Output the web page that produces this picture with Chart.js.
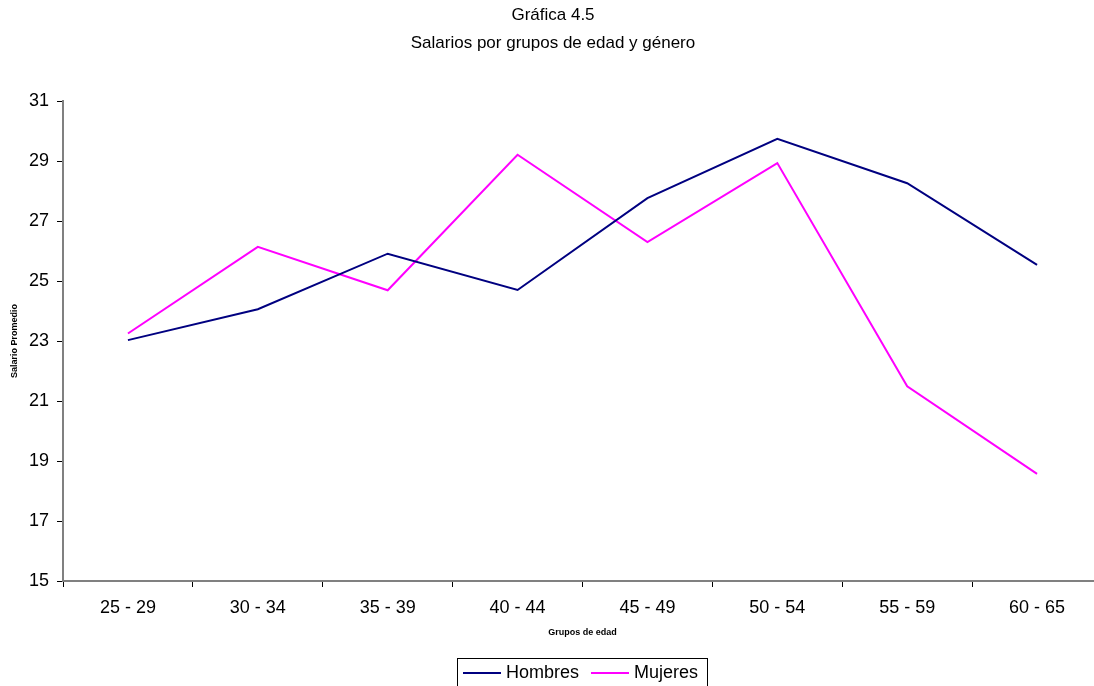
<!DOCTYPE html>
<html lang="es">
<head>
<meta charset="utf-8">
<title>Gráfica 4.5</title>
<script src="https://cdn.jsdelivr.net/npm/chart.js@4"></script>
<style>
    html, body { margin: 0; padding: 0; background: #fff; overflow: hidden; }
    #wrap { width: 1106px; height: 686px; }
</style>
</head>
<body>
<div id="wrap"><canvas id="chart" width="1106" height="686"></canvas></div>
<script>
const FONT = '"Liberation Sans", Arial, sans-serif'

// ─── DATOS ────────────────────────────────────────────────
const grupos = ['25 - 29', '30 - 34', '35 - 39', '40 - 44', '45 - 49', '50 - 54', '55 - 59', '60 - 65']
const hombres = [23.03, 24.06, 25.91, 24.70, 27.76, 29.74, 28.26, 25.54]
const mujeres = [23.25, 26.14, 24.69, 29.21, 26.30, 28.93, 21.49, 18.57]
const titulo = ['Gráfica 4.5', 'Salarios por grupos de edad y género']

// ─── TEXTOS Y LEYENDA ─────────────────────────────────────
const textos = {
    id: 'textos',
    afterDraw(chart) {
        const ctx = chart.ctx
        const area = chart.chartArea
        ctx.save()
        ctx.fillStyle = '#000'
        ctx.textAlign = 'center'
        ctx.textBaseline = 'alphabetic'
        ctx.font = `17px ${FONT}`
        ctx.fillText(titulo[0], chart.width / 2, 20)
        ctx.fillText(titulo[1], chart.width / 2, 48)

        // títulos de ejes
        ctx.font = `bold 9px ${FONT}`
        ctx.textBaseline = 'middle'
        ctx.fillText('Grupos de edad', (area.left + area.right) / 2, 633)
        ctx.save()
        ctx.translate(15, (area.top + area.bottom) / 2)
        ctx.rotate(-Math.PI / 2)
        ctx.fillText('Salario Promedio', 0, 0)
        ctx.restore()

        // leyenda con marco
        ctx.strokeStyle = '#000'
        ctx.lineWidth = 1
        ctx.strokeRect(457.5, 658.5, 250, 40)
        ctx.font = `18px ${FONT}`
        ctx.textAlign = 'left'
        const items = [{ x: 463 }, { x: 591 }]
        chart.data.datasets.forEach((ds, i) => {
            const x = items[i].x
            ctx.strokeStyle = ds.borderColor
            ctx.lineWidth = 2
            ctx.beginPath()
            ctx.moveTo(x, 673)
            ctx.lineTo(x + 38, 673)
            ctx.stroke()
            ctx.fillText(ds.label, x + 43, 673)
        })
        ctx.restore()
    }
}

new Chart(document.getElementById('chart'), {
    type: 'line',
    data: {
        labels: grupos,
        datasets: [
            { label: 'Hombres', data: hombres, borderColor: '#000080', borderWidth: 2, pointRadius: 0, tension: 0, fill: false },
            { label: 'Mujeres', data: mujeres, borderColor: '#FF00FF', borderWidth: 2, pointRadius: 0, tension: 0, fill: false }
        ]
    },
    options: {
        responsive: false,
        animation: false,
        layout: { padding: { top: 101, left: 0, right: 4, bottom: 0 } },
        plugins: {
            legend: { display: false },
            title: { display: false },
            tooltip: { enabled: false }
        },
        scales: {
            x: {
                offset: true,
                afterFit: s => { s.height = 105 },
                grid: { offset: true, drawOnChartArea: false, tickLength: 6, color: '#000', lineWidth: 1 },
                border: { color: '#808080', width: 2 },
                ticks: { color: '#000', font: { family: FONT, size: 18 }, padding: 10, maxRotation: 0 }
            },
            y: {
                min: 15,
                max: 31,
                afterFit: s => { s.width = 63 },
                grid: { drawOnChartArea: false, tickLength: 6, color: '#000', lineWidth: 1 },
                border: { color: '#808080', width: 2 },
                ticks: { stepSize: 2, color: '#000', font: { family: FONT, size: 18 }, padding: 8 }
            }
        }
    },
    plugins: [textos]
})
</script>
</body>
</html>
